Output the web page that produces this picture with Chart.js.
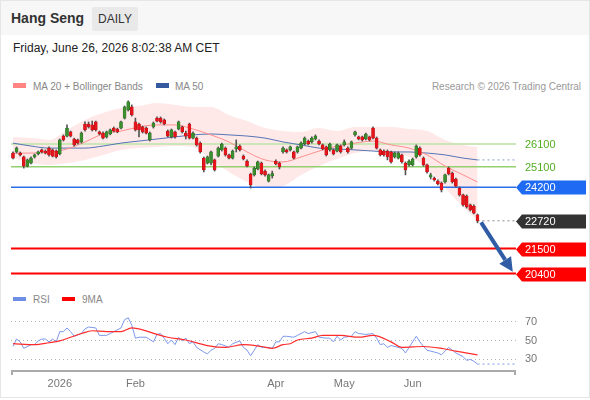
<!DOCTYPE html>
<html lang="en">
<head>
<meta charset="UTF-8">
<title>Hang Seng Daily</title>
<style>
    body {
        margin: 0;
        position: relative;
        width: 590px;
        height: 400px;
        background: #fff;
        font-family: "Liberation Sans", Arial, sans-serif;
        overflow: hidden;
    }
    .frame { position: absolute; left: 0; top: 0; width: 588px; height: 396px; border: 1px solid #e6e6e6; }
    .head { position: absolute; left: 1px; top: 1px; width: 588px; height: 34px; background: #f7f7f7; }
    .title { position: absolute; left: 11px; top: 10px; font-size: 14px; line-height: 16px; font-weight: bold; color: #333; }
    .period { position: absolute; left: 92px; top: 7px; width: 46px; height: 24px; line-height: 24px; text-align: center; background: #e9e9e9; font-size: 12px; color: #333; border-radius: 2px; }
    .date { position: absolute; left: 13px; top: 41px; font-size: 12px; line-height: 14px; color: #222; }
    .leg { position: absolute; font-size: 10px; line-height: 13px; color: #888; white-space: nowrap; }
    .sw { position: absolute; width: 13px; height: 5px; }
    canvas { position: absolute; left: 0; }
</style>
</head>
<body>
<div class="frame"></div>
<div class="head"></div>
<div class="title">Hang Seng</div>
<div class="period">DAILY</div>
<div class="date">Friday, June 26, 2026 8:02:38 AM CET</div>

<div class="sw" style="left:13px; top:83px; background:#ff8585;"></div>
<div class="leg" style="left:33px; top:80px;">MA 20 + Bollinger Bands</div>
<div class="sw" style="left:156px; top:83px; background:#35599f;"></div>
<div class="leg" style="left:175px; top:80px;">MA 50</div>
<div class="leg" style="right:9px; top:80px; color:#999;">Research © 2026 Trading Central</div>

<div class="sw" style="left:13px; top:297px; height:4px; background:#6f8fe6;"></div>
<div class="leg" style="left:33px; top:293px;">RSI</div>
<div class="sw" style="left:62px; top:297px; height:4px; background:#ff0000;"></div>
<div class="leg" style="left:82px; top:293px;">9MA</div>

<canvas id="priceChart" width="590" height="190" style="top:95px;"></canvas>
<canvas id="rsiChart" width="590" height="100" style="top:300px;"></canvas>

<script src="https://cdn.jsdelivr.net/npm/chart.js"></script>
<script>
    // daily candles, oldest first
    const opens = [
        25700, 25750, 25700, 25530, 25130, 25260, 25530, 25660, 25840, 25790,
        25920, 25840, 25790, 25660, 26450, 26450, 26630, 26320, 26280, 26190,
        26980, 26980, 26940, 27070, 26630, 26580, 26410, 26540, 26800, 26760,
        26800, 27240, 27600, 27730, 27070, 26980, 26850, 26800, 26280, 26850,
        27240, 27240, 27160, 26670, 26410, 26630, 26760, 26850, 26580, 26980,
        26360, 26360, 26140, 25480, 25260, 25260, 25400, 25570, 25840, 25920,
        25620, 25480, 25880, 26010, 25570, 25350, 24780, 24740, 25000, 25260,
        24910, 24470, 24700, 25350, 25260, 25750, 25840, 25840, 25750, 25750,
        25920, 26100, 26230, 26190, 26320, 26230, 26060, 25970, 25840, 25840,
        25790, 26010, 26060, 25920, 25920, 26500, 26410, 26410, 26320, 26410,
        26800, 26360, 25840, 25790, 25790, 25750, 25530, 25480, 25620, 25260,
        25180, 25180, 25530, 25920, 25480, 25180, 24650, 24600, 24470, 24380,
        24430, 25040, 24820, 24560, 24160, 23860, 23810, 23420, 23370, 22980
    ];
    const highs = [
        25750, 25970, 25750, 25570, 25440, 25530, 25660, 25790, 25880, 25840,
        25970, 25880, 25840, 26320, 26500, 26940, 26670, 26360, 26320, 26630,
        27070, 27070, 27110, 27110, 26670, 26630, 26670, 26760, 26850, 26800,
        27110, 27770, 28000, 27820, 27240, 27020, 26890, 26850, 26630, 27070,
        27290, 27290, 27200, 26720, 26760, 26670, 27110, 26890, 26670, 27020,
        26630, 26410, 26190, 25530, 25570, 25790, 25440, 25970, 26140, 25970,
        25660, 25840, 26280, 26060, 25620, 25400, 24820, 25090, 25350, 25310,
        24960, 24780, 24910, 25400, 25310, 25970, 25880, 26010, 25790, 26010,
        26190, 26410, 26280, 26410, 26500, 26280, 26100, 26010, 26140, 25880,
        26100, 26060, 26280, 25970, 26230, 26670, 26450, 26450, 26580, 26450,
        26850, 26410, 25880, 25840, 25840, 25790, 25750, 25750, 25660, 25310,
        25400, 25480, 26060, 25970, 25530, 25220, 24820, 24650, 24520, 24430,
        24780, 25090, 24870, 24600, 24210, 23900, 23860, 23460, 23420, 23020
    ];
    const lows = [
        25440, 25700, 25570, 25040, 25090, 25220, 25480, 25620, 25700, 25660,
        25570, 25530, 25480, 25620, 26230, 26410, 26410, 26010, 26100, 26140,
        26670, 26800, 26670, 26670, 26500, 26320, 26360, 26500, 26630, 26590,
        26760, 27200, 27550, 27330, 26670, 26410, 26580, 26540, 26230, 26800,
        27070, 27020, 26940, 26410, 26360, 26360, 26720, 26580, 26320, 26320,
        26320, 26010, 25700, 24870, 25220, 25180, 24910, 25530, 25790, 25570,
        25440, 25440, 25750, 25790, 25400, 25090, 24160, 24690, 24960, 24740,
        24690, 24430, 24600, 25180, 25000, 25700, 25700, 25790, 25440, 25700,
        25880, 26060, 26060, 26140, 26280, 26060, 25840, 25570, 25790, 25620,
        25750, 25700, 26010, 25700, 25880, 26450, 26280, 26230, 26280, 26230,
        26320, 25880, 25570, 25570, 25400, 25260, 25480, 25440, 25260, 24740,
        25130, 25130, 25480, 25570, 25130, 24820, 24560, 24470, 24300, 23990,
        24380, 24740, 24380, 24210, 23810, 23370, 23280, 23150, 23020, 22630
    ];
    const closes = [
        25480, 25920, 25620, 25130, 25400, 25480, 25620, 25750, 25750, 25700,
        25620, 25570, 25530, 26280, 26280, 26800, 26450, 26060, 26140, 26580,
        26720, 26850, 26720, 26720, 26540, 26360, 26630, 26720, 26670, 26630,
        27070, 27730, 27950, 27380, 26720, 26720, 26630, 26580, 26580, 27020,
        27110, 27070, 26980, 26450, 26720, 26410, 27070, 26630, 26450, 26360,
        26580, 26060, 25750, 24960, 25530, 25750, 24960, 25920, 26100, 25620,
        25480, 25790, 25970, 25840, 25440, 25130, 24300, 25040, 25310, 24780,
        24740, 24740, 24800, 25220, 25090, 25920, 25750, 25970, 25480, 25970,
        26140, 26360, 26100, 26360, 26450, 26100, 25880, 25620, 26100, 25660,
        26060, 25750, 26190, 25750, 26190, 26630, 26320, 26280, 26540, 26280,
        26360, 25920, 25620, 25620, 25530, 25310, 25700, 25700, 25310, 24960,
        25350, 25440, 26010, 25620, 25180, 24870, 24740, 24520, 24340, 24080,
        24740, 24780, 24430, 24250, 23860, 23420, 23330, 23200, 23060, 22720
    ];

    // indicator readings taken every few candles
    const bandIdx = [0, 5, 10, 15, 20, 25, 30, 35, 40, 45, 50, 55, 60, 65, 70, 75, 80, 85, 90, 95, 100, 105, 110, 115, 120, 125, 129];
    const bbUpper = [26410, 26360, 26280, 26720, 27160, 27460, 27680, 27770, 27900, 27820, 27730, 27730, 27380, 27110, 26800, 26670, 26630, 26800, 26670, 26850, 26850, 26850, 26760, 26670, 26280, 26060, 25970];
    const bbLower = [25480, 25260, 25180, 25260, 25400, 25620, 25840, 25920, 25970, 26010, 25970, 25400, 24870, 24430, 24160, 24250, 24740, 25130, 25440, 25700, 25790, 25700, 25530, 25040, 24160, 23330, 22760];
    const ma20 = [25700, 25700, 25750, 25880, 26190, 26540, 26670, 26850, 26940, 26940, 26760, 26500, 26190, 25750, 25400, 25310, 25530, 25790, 26010, 26140, 26230, 26060, 25920, 25620, 25130, 24740, 24430];
    const ma50 = [26140, 26010, 25920, 25920, 25920, 26010, 26140, 26230, 26320, 26410, 26500, 26540, 26500, 26450, 26360, 26190, 26060, 25920, 25880, 25840, 25790, 25750, 25750, 25700, 25620, 25480, 25400];

    const levelValues = [26100, 25100, 24200, 21500, 20400];
    const lastPrice = 22720;
    const arrowFrom = [130, 22650];
    const arrowTo = [138.8, 20480];

    const rsiIdx = [0, 1, 2, 3, 5, 6, 7, 8, 9, 10, 11, 12, 13, 14, 15, 16, 17, 19, 20, 21, 23, 24, 26, 27, 28, 30, 31, 32, 33, 34, 35, 37, 39, 40, 41, 42, 43, 44, 45, 46, 47, 48, 49, 50, 51, 53, 54, 55, 56, 57, 58, 60, 61, 63, 64, 65, 66, 67, 68, 69, 71, 72, 73, 74, 75, 76, 78, 79, 81, 82, 84, 85, 87, 88, 89, 90, 91, 92, 94, 95, 96, 98, 100, 101, 102, 103, 104, 105, 107, 108, 109, 110, 112, 113, 114, 115, 117, 118, 119, 121, 122, 123, 125, 126, 127, 128, 129];
    const rsiVal = [43, 51, 48, 41, 45, 45, 49, 51, 51, 48, 51, 48, 59, 59, 63, 59, 54, 57, 62, 64, 63, 55, 55, 57, 59, 63, 72, 74, 66, 52, 53, 53, 48, 56, 57, 52, 46, 50, 45, 53, 49, 52, 46, 48, 42, 37, 35, 39, 41, 46, 45, 42, 46, 49, 42, 39, 33, 39, 45, 42, 42, 41, 48, 48, 54, 54, 53, 55, 59, 57, 59, 53, 52, 52, 48, 54, 50, 53, 54, 59, 57, 56, 57, 52, 45, 46, 42, 44, 42, 41, 36, 42, 54, 48, 43, 39, 37, 36, 34, 42, 39, 36, 32, 28, 29, 27, 24];
    const rsiMaIdx = [0, 6, 10, 13, 16, 19, 22, 26, 30, 33, 36, 40, 43, 48, 54, 59, 64, 69, 72, 75, 77, 79, 83, 86, 91, 96, 100, 105, 108, 114, 119, 123, 129];
    const rsiMaVal = [46, 45, 47, 49, 53, 57, 60, 59, 59, 63, 61, 56, 53, 50, 44, 42, 45, 43, 41, 45, 46, 50, 52, 55, 55, 53, 55, 48, 42, 43, 41, 38, 34];
    const rsiLevels = [70, 50, 30];

    const monthLabels = ['2026', 'Feb', 'Apr', 'May', 'Jun'];
    const monthIdx = [13, 34, 73, 92, 111];

    // shared x range (candle index), leaves room on the right for the projection
    const xMin = -0.55;
    const xMax = 139.7;
    const FONT = '"Liberation Sans", Arial, sans-serif';
    Chart.defaults.font.family = FONT;

    function pts(idx, vals) {
        return idx.map((x, i) => ({ x: x, y: vals[i] }));
    }

    const last = closes.length - 1;
    const levelColors = ['#cde6b8', '#95d070', '#2f6fe6', '#ff0000', '#ff0000'];
    const levelWidths = [2, 1.3, 1.5, 2, 2];
    const tagStyles = [
        { text: '#52ad22' },
        { text: '#52ad22' },
        { box: '#1f6af2' },
        { box: '#ff0000' },
        { box: '#ff0000' }
    ];

    const tagsPlugin = {
        id: 'tags',
        afterDraw(chart) {
            const { ctx, chartArea: area, scales: { x, y } } = chart;
            ctx.save();

            // price tags on the right
            ctx.font = '11px ' + FONT;
            ctx.textBaseline = 'middle';
            const tags = levelValues.map((v, i) => Object.assign({ v: v }, tagStyles[i]));
            tags.push({ v: lastPrice, box: '#333333' });
            tags.forEach(t => {
                const py = Math.round(y.getPixelForValue(t.v)) + 0.5;
                if (t.box) {
                    ctx.fillStyle = t.box;
                    ctx.beginPath();
                    ctx.moveTo(area.right, py);
                    ctx.lineTo(area.right + 6, py - 7);
                    ctx.lineTo(area.right + 70, py - 7);
                    ctx.lineTo(area.right + 70, py + 7);
                    ctx.lineTo(area.right + 6, py + 7);
                    ctx.closePath();
                    ctx.fill();
                    ctx.fillStyle = '#fff';
                } else {
                    ctx.fillStyle = t.text;
                }
                ctx.fillText(String(t.v), area.right + 9, py + 0.5);
            });

            // projection arrow
            const x1 = x.getPixelForValue(arrowFrom[0]), y1 = y.getPixelForValue(arrowFrom[1]);
            const x2 = x.getPixelForValue(arrowTo[0]), y2 = y.getPixelForValue(arrowTo[1]);
            const ang = Math.atan2(y2 - y1, x2 - x1);
            const head = 14, hw = 7;
            const bx = x2 - head * Math.cos(ang), by = y2 - head * Math.sin(ang);
            ctx.strokeStyle = '#2f5ca5';
            ctx.fillStyle = '#2f5ca5';
            ctx.lineWidth = 4;
            ctx.beginPath();
            ctx.moveTo(x1, y1);
            ctx.lineTo(bx, by);
            ctx.stroke();
            ctx.beginPath();
            ctx.moveTo(x2, y2);
            ctx.lineTo(bx + hw * Math.sin(ang), by - hw * Math.cos(ang));
            ctx.lineTo(bx - hw * Math.sin(ang), by + hw * Math.cos(ang));
            ctx.closePath();
            ctx.fill();
            ctx.restore();
        }
    };

    const upColor = '#3b8f2e', downColor = '#e8141b';
    const bodyColors = closes.map((c, i) => c >= opens[i] ? upColor : downColor);
    const bodyBorders = closes.map((c, i) => c >= opens[i] ? '#25651f' : '#b01013');

    const lineBase = { type: 'line', pointRadius: 0, fill: false, tension: 0 };

    const priceDatasets = [
        {
            type: 'bar',
            data: closes.map((c, i) => ({ x: i, y: [opens[i], c] })),
            backgroundColor: bodyColors,
            borderColor: bodyBorders,
            borderWidth: 0.5,
            borderSkipped: false,
            barThickness: 3,
            grouped: false,
            order: 0
        },
        {
            type: 'bar',
            data: highs.map((h, i) => ({ x: i, y: [lows[i], h] })),
            backgroundColor: '#555',
            borderWidth: 0,
            barThickness: 1,
            grouped: false,
            order: 1
        },
        Object.assign({}, lineBase, { data: pts(bandIdx, ma20), borderColor: '#ff8f8f', borderWidth: 1, cubicInterpolationMode: 'monotone', order: 3 }),
        Object.assign({}, lineBase, { data: pts(bandIdx, ma50), borderColor: '#5575b5', borderWidth: 1, cubicInterpolationMode: 'monotone', order: 3 }),
        Object.assign({}, lineBase, { data: [{ x: last, y: ma50[ma50.length - 1] }, { x: xMax, y: ma50[ma50.length - 1] }], borderColor: '#8a9cc4', borderWidth: 1, borderDash: [2, 3], order: 3 }),
        Object.assign({}, lineBase, { data: [{ x: last, y: lastPrice }, { x: xMax, y: lastPrice }], borderColor: '#888', borderWidth: 1, borderDash: [2, 3], order: 3 })
    ];
    levelValues.forEach((v, i) => {
        priceDatasets.push(Object.assign({}, lineBase, {
            data: [{ x: xMin, y: v }, { x: xMax, y: v }],
            borderColor: levelColors[i],
            borderWidth: levelWidths[i],
            order: 4
        }));
    });
    // Bollinger band: upper fills down to the lower dataset that follows it
    priceDatasets.push(Object.assign({}, lineBase, {
        data: pts(bandIdx, bbUpper), borderWidth: 0, borderColor: 'rgba(0,0,0,0)',
        fill: '+1', backgroundColor: 'rgba(250,150,150,0.22)', cubicInterpolationMode: 'monotone', order: 6
    }));
    priceDatasets.push(Object.assign({}, lineBase, {
        data: pts(bandIdx, bbLower), borderWidth: 0, borderColor: 'rgba(0,0,0,0)',
        cubicInterpolationMode: 'monotone', order: 6
    }));

    new Chart(document.getElementById('priceChart'), {
        type: 'line',
        data: { datasets: priceDatasets },
        options: {
            responsive: false,
            animation: false,
            events: [],
            layout: { padding: { left: 11, right: 74, top: 0, bottom: 0 } },
            plugins: { legend: { display: false }, tooltip: { enabled: false } },
            scales: {
                x: { type: 'linear', min: xMin, max: xMax, offset: false, display: false },
                y: { type: 'linear', min: 19896, max: 28256, display: false }
            }
        },
        plugins: [tagsPlugin]
    });

    const rsiAxisPlugin = {
        id: 'rsiAxis',
        beforeDatasetsDraw(chart) {
            const { ctx, chartArea: area, scales: { y } } = chart;
            ctx.save();
            ctx.strokeStyle = '#b5b5b5';
            ctx.lineWidth = 1;
            ctx.setLineDash([1, 3]);
            rsiLevels.forEach(v => {
                const py = Math.round(y.getPixelForValue(v)) + 0.5;
                ctx.beginPath();
                ctx.moveTo(area.left, py);
                ctx.lineTo(area.right, py);
                ctx.stroke();
            });
            ctx.restore();
        },
        afterDraw(chart) {
            const { ctx, chartArea: area, scales: { x, y } } = chart;
            ctx.save();
            ctx.font = '11px ' + FONT;
            ctx.fillStyle = '#777';
            ctx.textBaseline = 'middle';
            rsiLevels.forEach(v => {
                ctx.fillText(String(v), area.right + 9, y.getPixelForValue(v) + 0.5);
            });

            // time axis
            ctx.strokeStyle = '#aaa';
            ctx.lineWidth = 2;
            ctx.beginPath();
            ctx.moveTo(area.left + 1, area.bottom + 5);
            ctx.lineTo(area.left + 1, area.bottom + 1);
            ctx.lineTo(area.right - 1, area.bottom + 1);
            ctx.lineTo(area.right - 1, area.bottom + 5);
            ctx.stroke();

            ctx.textAlign = 'center';
            ctx.fillStyle = '#777';
            monthLabels.forEach((m, i) => {
                ctx.fillText(m, x.getPixelForValue(monthIdx[i]), area.bottom + 14);
            });
            ctx.restore();
        }
    };

    new Chart(document.getElementById('rsiChart'), {
        type: 'line',
        data: {
            datasets: [
                Object.assign({}, lineBase, { data: pts(rsiMaIdx, rsiMaVal), borderColor: '#ff2b2b', borderWidth: 1.2, cubicInterpolationMode: 'monotone', order: 0 }),
                Object.assign({}, lineBase, { data: pts(rsiIdx, rsiVal), borderColor: '#7b98ea', borderWidth: 1, order: 1 }),
                Object.assign({}, lineBase, {
                    data: [{ x: rsiIdx[rsiIdx.length - 1], y: rsiVal[rsiVal.length - 1] }, { x: xMax, y: rsiVal[rsiVal.length - 1] }],
                    borderColor: '#7b98ea', borderWidth: 1, borderDash: [2, 3], order: 1
                })
            ]
        },
        options: {
            responsive: false,
            animation: false,
            events: [],
            layout: { padding: { left: 11, right: 74, top: 5, bottom: 30 } },
            plugins: { legend: { display: false }, tooltip: { enabled: false } },
            scales: {
                x: { type: 'linear', min: xMin, max: xMax, offset: false, display: false },
                y: { type: 'linear', min: 17.6, max: 87.8, display: false }
            }
        },
        plugins: [rsiAxisPlugin]
    });
</script>
</body>
</html>
